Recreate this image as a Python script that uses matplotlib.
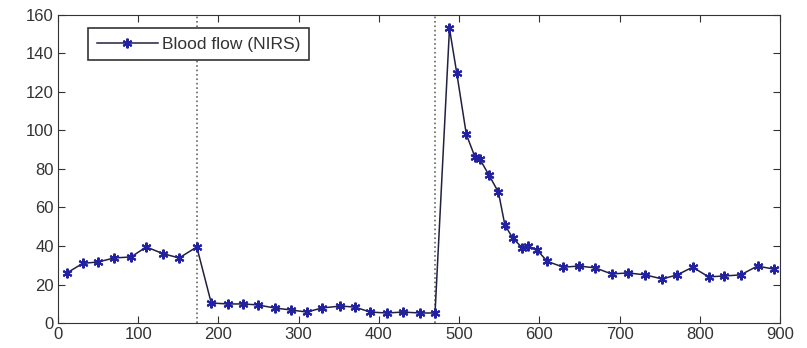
import matplotlib
matplotlib.use("Agg")
import matplotlib.pyplot as plt

time_s = [11, 31, 50, 70, 91, 110, 131, 151, 173, 191, 212, 231, 249, 270, 290,
          310, 329, 352, 370, 389, 410, 430, 451, 470, 488, 497, 509, 520, 526,
          537, 549, 557, 567, 579, 586, 597, 610, 630, 650, 670, 690, 711, 732,
          753, 772, 791, 811, 830, 851, 872, 892]
blood_flow = [26, 31, 31.7, 33.8, 34.3, 39.5, 36, 33.8, 39.5, 10.4, 9.9, 9.9, 9.4,
              7.8, 6.8, 5.7, 7.8, 8.8, 8.3, 5.7, 5.2, 5.7, 5.2, 5.2, 153, 130, 98,
              86, 85, 77, 68, 51, 44, 39, 40, 38, 32, 29, 29.6, 28.6, 25.5, 26, 25,
              22.9, 25, 29, 24, 24.4, 25, 29.6, 28]
event_lines = [173, 470]
series_label = "Blood flow (NIRS)"
x_ticks = [0, 100, 200, 300, 400, 500, 600, 700, 800, 900]
y_ticks = [0, 20, 40, 60, 80, 100, 120, 140, 160]

plt.rcParams['font.family'] = ['Liberation Sans', 'DejaVu Sans']
fig = plt.figure(figsize=(8.07, 3.48), dpi=100)
ax = fig.add_axes([0.0719, 0.0718, 0.8946, 0.8852])

for xv in event_lines:
    ax.axvline(xv, color='#666666', linestyle=':', linewidth=1.2, zorder=1)

ax.plot(time_s, blood_flow, '-', color='#202040', linewidth=1.1,
        marker=(6, 2, 0), markersize=7, markeredgewidth=1.5,
        markeredgecolor='#2222a0', markerfacecolor='#2222a0',
        label=series_label, zorder=3)

ax.set_xlim(0, 900)
ax.set_ylim(0, 160)
ax.set_xticks(x_ticks)
ax.set_yticks(y_ticks)
ax.tick_params(direction='in', top=True, right=True, length=5, labelsize=12,
               color='#333333', labelcolor='#333333', pad=3)
for s in ax.spines.values():
    s.set_color('#333333')

leg = ax.legend(loc='upper left', bbox_to_anchor=(0.0416, 0.958), fontsize=12.5,
                fancybox=False, edgecolor='#333333', framealpha=1,
                handlelength=3.5, handletextpad=0.25, borderpad=0.5,
                borderaxespad=0, labelcolor='#333333')
leg.get_frame().set_linewidth(1.2)

fig.savefig("out.png", dpi=100)
